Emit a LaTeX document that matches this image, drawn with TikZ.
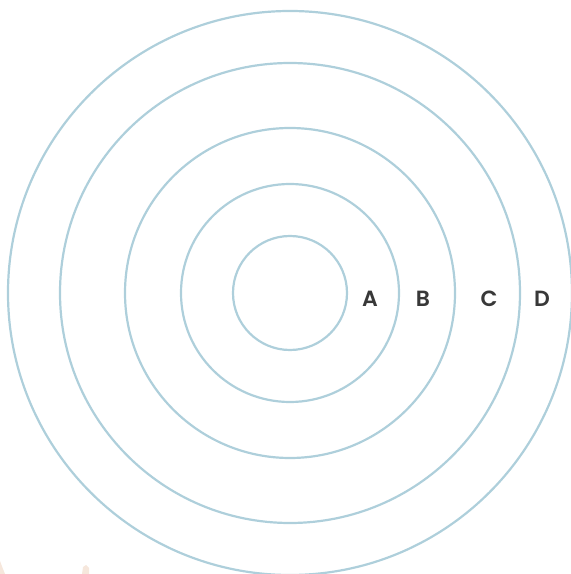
\documentclass[tikz,border=0pt]{standalone}
\usepackage{fontspec}
\setmainfont{Poppins}[BoldFont={* SemiBold}]
\definecolor{ring}{HTML}{AECFDB}
\definecolor{lbl}{HTML}{383838}
\definecolor{smudge}{HTML}{F6E7DC}
\begin{document}
\begin{tikzpicture}[x=1pt,y=1pt,
  ringline/.style={draw=ring,line width=2.2pt},
  ringlabel/.style={font=\fontsize{22}{22}\selectfont\bfseries,text=lbl,inner sep=0pt}]
\useasboundingbox (0,0) rectangle (571,574);
\coordinate (c) at (290,281);
\begin{scope}
\clip (0,0) rectangle (571,574);
\draw[ringline] (c) circle[radius=282];
\draw[ringline] (c) circle[radius=230];
\draw[ringline] (c) circle[radius=165];
\draw[ringline] (c) circle[radius=109];
\draw[ringline] (c) circle[radius=57];
\fill[smudge] (0,0) -- (0,13) -- (3,5) -- (5,0) -- cycle;
\fill[smudge] (82,0) -- (83,7) -- (86,9) -- (89,6) -- (89,0) -- cycle;
\end{scope}
\node[ringlabel] (la) at (370,275) {A};
\node[ringlabel] (lb) at (423,275) {B};
\node[ringlabel] (lc) at (489,275) {C};
\node[ringlabel] (ld) at (542,275) {D};
\end{tikzpicture}
\end{document}
